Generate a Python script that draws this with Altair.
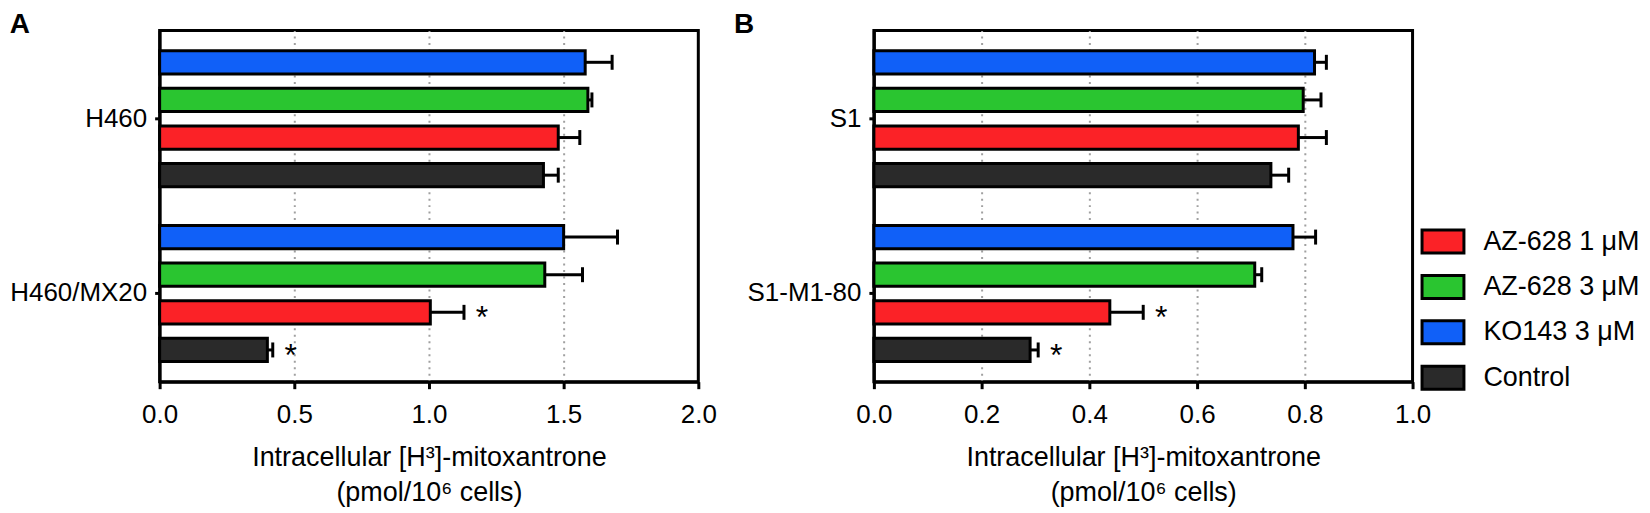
import altair as alt
import pandas as pd

# bar order within each cell-line group (top to bottom)
treatments = ["KO143 3 μM", "AZ-628 3 μM", "AZ-628 1 μM", "Control"]
legend_order = ["AZ-628 1 μM", "AZ-628 3 μM", "KO143 3 μM", "Control"]
legend_colors = ["#fb2227", "#2ac530", "#1060f8", "#2a2a2a"]

# Panel A
groups_a = ["H460", "H460/MX20"]
means_a = [[1.58, 1.59, 1.48, 1.425], [1.50, 1.43, 1.005, 0.40]]
upper_a = [[1.68, 1.605, 1.56, 1.48], [1.70, 1.57, 1.13, 0.42]]
sig_a = [["", "", "", ""], ["", "", "*", "*"]]
ticks_a = [0.0, 0.5, 1.0, 1.5, 2.0]

# Panel B
groups_b = ["S1", "S1-M1-80"]
means_b = [[0.818, 0.797, 0.788, 0.737], [0.778, 0.707, 0.438, 0.29]]
upper_b = [[0.84, 0.83, 0.84, 0.77], [0.82, 0.72, 0.50, 0.305]]
sig_b = [["", "", "", ""], ["", "", "*", "*"]]
ticks_b = [0.0, 0.2, 0.4, 0.6, 0.8, 1.0]

x_title = ["Intracellular [H³]-mitoxantrone", "(pmol/10⁶ cells)"]


def make_df(groups, means, upper, sig):
    rows = []
    for gi, g in enumerate(groups):
        for ti, t in enumerate(treatments):
            rows.append({"group": g, "treatment": t, "value": means[gi][ti],
                         "upper": upper[gi][ti], "sig": sig[gi][ti]})
    return pd.DataFrame(rows)


def panel(df, groups, xmax, ticks, letter, letter_dx, show_legend):
    y_axis = alt.Axis(labelFontSize=26, tickSize=5, tickWidth=3, tickColor="black",
                      labelPadding=8, domainWidth=3, domainColor="black",
                      labelColor="black", grid=False, title=None)
    y = alt.Y("group:N", sort=groups, title=None,
              scale=alt.Scale(paddingInner=0.139, paddingOuter=0.074), axis=y_axis)
    yoff = alt.YOffset("treatment:N", sort=treatments,
                       scale=alt.Scale(paddingInner=0.38, paddingOuter=0.19))
    grid_op = {"condition": {"test": f"datum.value <= 0 || datum.value >= {xmax}", "value": 0},
               "value": 1}
    x_axis = alt.Axis(values=ticks, format=".1f", labelFontSize=26, labelColor="black",
                      tickSize=7, tickWidth=3, tickColor="black", domainWidth=3,
                      domainColor="black", labelPadding=13, titleFontSize=27,
                      titleFontWeight="normal", titleColor="black", titleLineHeight=35,
                      titlePadding=17, grid=True, gridDash=[2, 4.5], gridColor="#a0a0a0",
                      gridWidth=2, gridOpacity=grid_op, labelFlush=False)
    xscale = alt.Scale(domain=[0, xmax], nice=False, zero=True)

    if show_legend:
        legend = alt.Legend(title=None, orient="none", legendX=548, legendY=189,
                            symbolType="M-1,-0.55H1V0.55H-1Z", symbolSize=1764,
                            symbolStrokeColor="black", symbolStrokeWidth=3,
                            symbolOpacity=1, labelFontSize=27, labelColor="black",
                            labelOffset=18, rowPadding=4.5, labelLimit=300)
    else:
        legend = None
    color = alt.Color("treatment:N",
                      scale=alt.Scale(domain=legend_order, range=legend_colors),
                      legend=legend)

    base = alt.Chart(df)
    bars = base.mark_bar(stroke="black", strokeWidth=3, opacity=1).encode(
        x=alt.X("value:Q", scale=xscale, axis=x_axis, title=x_title),
        y=y, yOffset=yoff, color=color)
    err = base.mark_rule(color="black", strokeWidth=3).encode(
        x=alt.X("value:Q", scale=xscale, axis=x_axis, title=x_title),
        x2="upper:Q", y=y, yOffset=yoff)
    caps = base.mark_tick(color="black", thickness=3, size=15, opacity=1).encode(
        x=alt.X("upper:Q", scale=xscale, axis=x_axis, title=x_title),
        y=y, yOffset=yoff)
    stars = base.transform_filter("datum.sig != ''").mark_text(
        fontSize=32, dx=18, dy=6, align="center", baseline="middle", color="black").encode(
        x=alt.X("upper:Q", scale=xscale, axis=x_axis, title=x_title),
        y=y, yOffset=yoff, text="sig:N")
    return alt.layer(bars, err, caps, stars).properties(
        width=540, height=352,
        title=alt.TitleParams(letter, anchor="start", frame="bounds", fontSize=28,
                              fontWeight="bold", color="black", offset=-30,
                              baseline="alphabetic", dx=letter_dx))


df_a = make_df(groups_a, means_a, upper_a, sig_a)
df_b = make_df(groups_b, means_b, upper_b, sig_b)

pa = panel(df_a, groups_a, 2.0, ticks_a, "A", 0, False)
pb = panel(df_b, groups_b, 1.0, ticks_b, "B", -13, True)

chart = alt.hconcat(pa, pb, spacing=14).resolve_scale(color="independent").properties(
    padding=0
).configure(font="Liberation Sans").configure_view(stroke="black", strokeWidth=3)

chart.save("out.html", embed_options={"renderer": "svg", "actions": False})
